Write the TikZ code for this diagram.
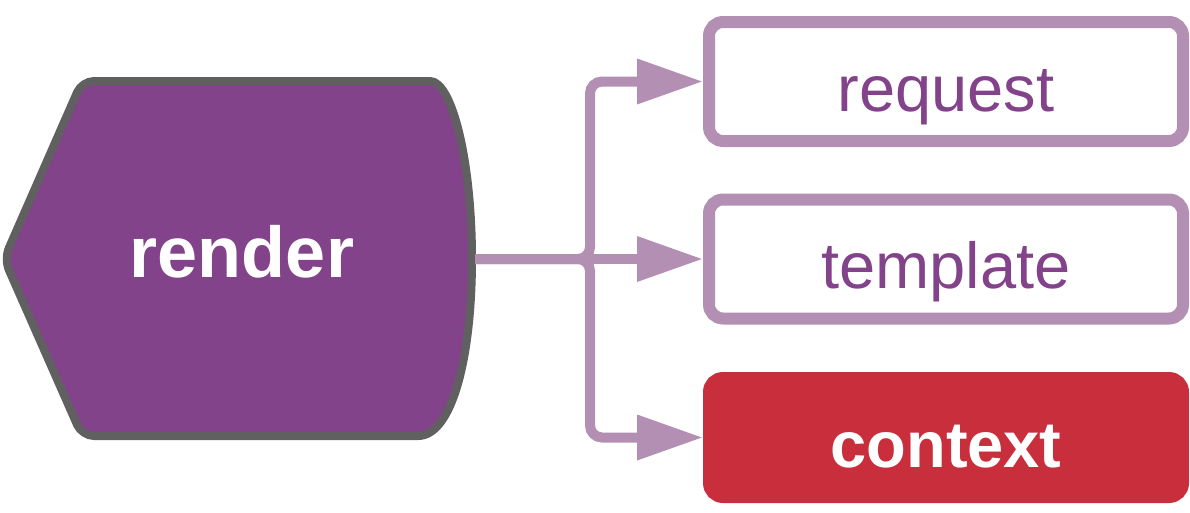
\documentclass[tikz,border=0pt]{standalone}
\usepackage{fontspec}
\setmainfont{Liberation Sans}
\usetikzlibrary{arrows.meta}

\definecolor{renderpurple}{HTML}{83438A}
\definecolor{rendergray}{HTML}{606060}
\definecolor{linkpurple}{HTML}{B38FB3}
\definecolor{contextred}{HTML}{C82E3C}

\begin{document}
\begin{tikzpicture}[
        x=1pt, y=-1pt,
        boxnode/.style={rectangle, rounded corners=14pt, line width=12pt, minimum width=474pt, minimum height=119pt,
                        font=\fontsize{65}{78}\selectfont, text height=59pt, text depth=0pt, inner sep=0pt},
        plainbox/.style={boxnode, draw=linkpurple, fill=white, text=renderpurple},
        redbox/.style={boxnode, draw=contextred, fill=contextred, text=white, font=\fontsize{65}{78}\selectfont\bfseries},
        link/.style={draw=linkpurple, line width=10pt, -{Triangle[length=66pt,width=43pt]}},
        ]

        \useasboundingbox (0,0) rectangle (1190,512);

        % Render
        \filldraw[fill=renderpurple, draw=rendergray, line width=8pt, rounded corners=12pt]
            (4,259) -- (82,81) -- (418,81) [sharp corners]
            .. controls (452,81) and (472,160) .. (472,259)
            .. controls (472,358) and (452,436) .. (418,436) [rounded corners=12pt]
            -- (82,436) -- cycle;
        \node[anchor=base, text=white, font=\fontsize{72}{86}\selectfont\bfseries] (render) at (242,277) {render};
        \coordinate (rout) at (475,259);
        \coordinate (split) at (590,259);

        % Boxes
        \node[plainbox] (request) at (946,81.5) {request};
        \node[plainbox] (template) at (946,259) {template};
        \node[redbox] (context) at (946,437.5) {context};

        % Links
        \draw[link, rounded corners=12pt] (rout) -- (split) |- (request.west);
        \draw[link] (rout) -- (template.west);
        \draw[link, rounded corners=12pt] (rout) -- (split) |- (context.west);

    \end{tikzpicture}
\end{document}
